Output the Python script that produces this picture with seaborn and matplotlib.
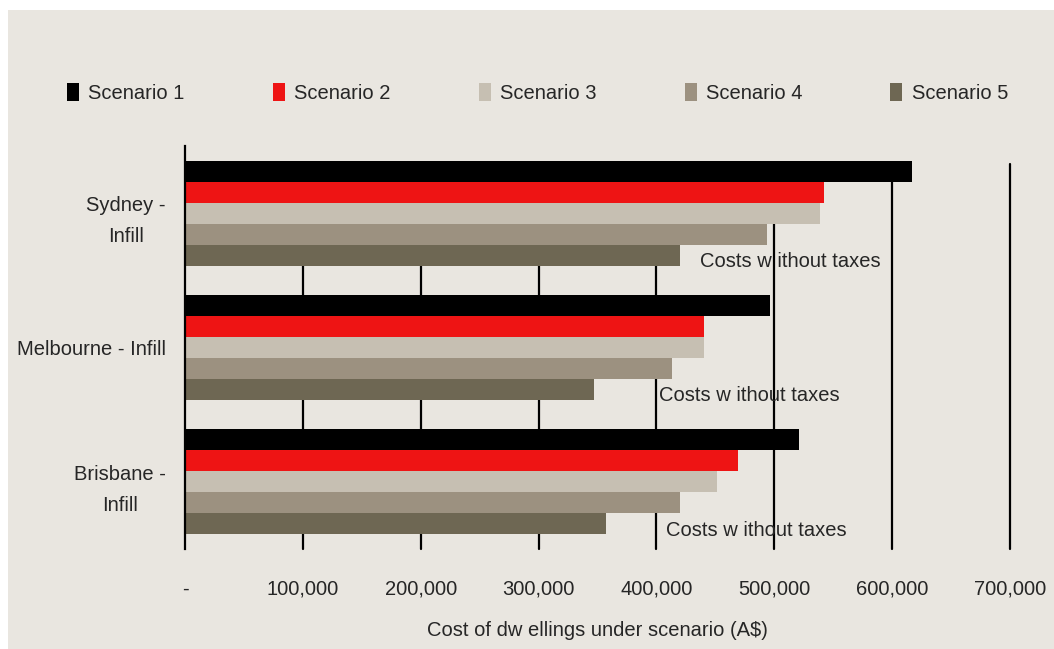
import pandas as pd
import matplotlib.pyplot as plt
import matplotlib.patches as mpatches
import seaborn as sns

# 데이터
cities = ["Sydney -\nInfill", "Melbourne - Infill", "Brisbane -\nInfill"]
scenarios = ["Scenario 1", "Scenario 2", "Scenario 3", "Scenario 4", "Scenario 5"]
scenario_1 = [617000, 496000, 521000]
scenario_2 = [542000, 440000, 469000]
scenario_3 = [539000, 440000, 451000]
scenario_4 = [494000, 413000, 420000]
scenario_5 = [420000, 347000, 357000]
x_ticks = [0, 100000, 200000, 300000, 400000, 500000, 600000, 700000]
x_tick_labels = ["-", "100,000", "200,000", "300,000", "400,000", "500,000", "600,000", "700,000"]
note_text = "Costs w ithout taxes"
note_x = [437000, 402000, 408000]

colors = ["#000000", "#EE1414", "#C6BFB2", "#9C9180", "#6E6753"]
bg = "#E9E6E0"
fs = 14.5

rows = []
for s, vals in zip(scenarios, [scenario_1, scenario_2, scenario_3, scenario_4, scenario_5]):
    for c, v in zip(cities, vals):
        rows.append({"City": c, "Scenario": s, "Cost": v})
df = pd.DataFrame(rows)

sns.set_style("white")
plt.rcParams["font.family"] = ["Liberation Sans", "DejaVu Sans"]

fig = plt.figure(figsize=(10.54, 6.49), dpi=100, facecolor="white")
# 배경 패널 (좌측/상단 흰 여백)
fig.patches.append(mpatches.Rectangle((8 / 1054, 0), 1, 1 - 10 / 649,
                                      transform=fig.transFigure, facecolor=bg,
                                      edgecolor="none", zorder=-10))
ax = fig.add_axes([185 / 1054, 1 - 549 / 649, (1010 - 185) / 1054, (549 - 146) / 649])
ax.set_facecolor(bg)

# 세로 격자선 (막대 뒤)
for t in x_ticks[1:]:
    ax.axvline(t, ymin=0, ymax=(549 - 164) / (549 - 146), color="black", lw=1.6,
               zorder=0, clip_on=False)

sns.barplot(data=df, y="City", x="Cost", hue="Scenario", palette=colors,
            orient="h", width=0.78, saturation=1, errorbar=None, linewidth=0,
            ax=ax, zorder=2)

for i, xv in enumerate(note_x):
    ax.text(xv, i + 0.36, note_text, fontsize=fs, ha="left", va="center", zorder=3)

ax.set_xlim(0, 700000)
ax.set_ylim(2.5, -0.5)
ax.set_xticks(x_ticks)
ax.set_xticklabels(x_tick_labels, fontsize=fs)
ax.tick_params(axis="x", length=0, pad=22)
ax.tick_params(axis="y", length=0, pad=14, labelsize=fs)
for lab in ax.get_yticklabels():
    lab.set_multialignment("center")
    lab.set_linespacing(1.8)
ax.set_xlabel("Cost of dw ellings under scenario (A$)", fontsize=fs, labelpad=16)
ax.set_ylabel("")

for side in ["top", "right", "bottom"]:
    ax.spines[side].set_visible(False)
ax.spines["left"].set_color("black")
ax.spines["left"].set_linewidth(1.6)

handles, labels = ax.get_legend_handles_labels()
ax.get_legend().remove()
fig.legend(handles, labels, loc="center", bbox_to_anchor=(0.51, 1 - 93 / 649), ncol=5,
           frameon=False, fontsize=fs, handlelength=0.6, handleheight=1.0,
           handletextpad=0.45, columnspacing=4.38)

fig.savefig("out.png", dpi=100, facecolor="white")
